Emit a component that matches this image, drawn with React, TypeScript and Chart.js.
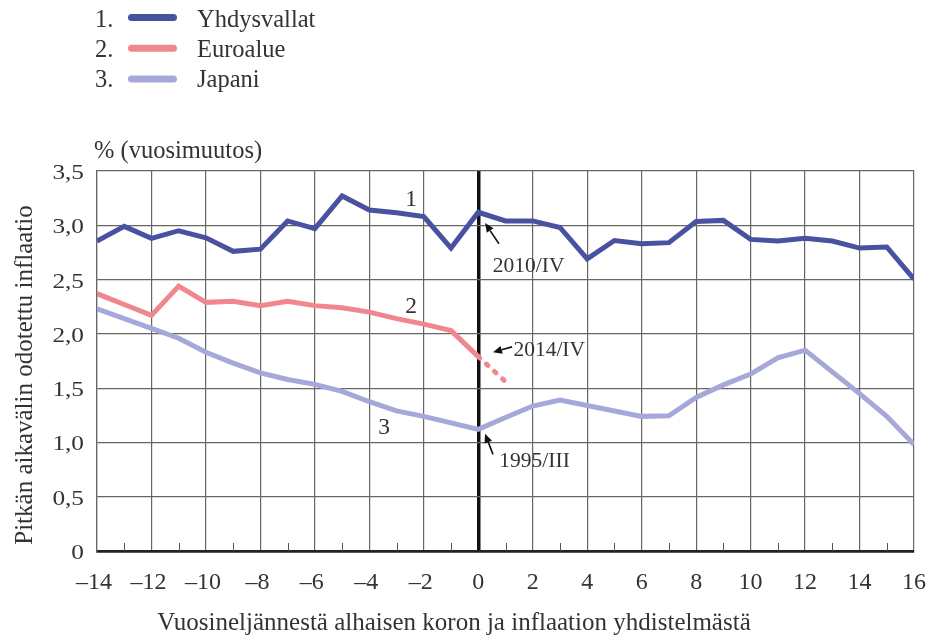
import React, { useEffect, useRef } from 'react';
import { Chart, registerables } from 'chart.js';

Chart.register(...registerables);

const quarters = [-14, -13, -12, -11, -10, -9, -8, -7, -6, -5, -4, -3, -2, -1, 0, 1, 2, 3, 4, 5, 6, 7, 8, 9, 10, 11, 12, 13, 14, 15, 16];
const usValues = [2.855, 2.99, 2.88, 2.95, 2.885, 2.76, 2.78, 3.04, 2.97, 3.27, 3.14, 3.115, 3.08, 2.79, 3.12, 3.04, 3.04, 2.98, 2.69, 2.86, 2.83, 2.84, 3.035, 3.045, 2.87, 2.855, 2.88, 2.855, 2.79, 2.8, 2.505];
const euroValues = [2.37, 2.27, 2.17, 2.44, 2.29, 2.3, 2.26, 2.3, 2.26, 2.24, 2.2, 2.14, 2.09, 2.03, 1.79, 1.56];
const japanValues = [2.23, 2.14, 2.05, 1.96, 1.83, 1.73, 1.64, 1.58, 1.535, 1.47, 1.375, 1.29, 1.24, 1.18, 1.12, 1.23, 1.335, 1.39, 1.34, 1.29, 1.24, 1.245, 1.415, 1.53, 1.63, 1.78, 1.85, 1.65, 1.45, 1.24, 0.98];
const seriesNames = ['Yhdysvallat', 'Euroalue', 'Japani'];
const seriesColors = ['#4a51a1', '#f0878f', '#a5a8d9'];
const xTickValues = [-14, -12, -10, -8, -6, -4, -2, 0, 2, 4, 6, 8, 10, 12, 14, 16];
const yTickValues = [0, 0.5, 1, 1.5, 2, 2.5, 3, 3.5];
const minorTicks = [-13, -11, -9, -7, -5, -3, -1, 1, 3, 5, 7, 9, 11, 13, 15];
const yUnitLabel = '% (vuosimuutos)';
const yTitle = 'Pitkän aikavälin odotettu inflaatio';
const xTitle = 'Vuosineljännestä alhaisen koron ja inflaation yhdistelmästä';
const euroForecastFrom = 14; // index of quarter 0

const FONT = '"Liberation Serif", "DejaVu Serif", serif';
const TEXT = '#333333';

const toPts = (vals: number[]) => vals.map((v, i) => ({ x: quarters[i], y: v }));

const fmtY = (v: number) => (v === 0 ? '0' : v.toFixed(1).replace('.', ','));
const fmtX = (v: number) => (v < 0 ? '\u2013' + Math.abs(v) : String(v));

function txt(
  ctx: CanvasRenderingContext2D,
  s: string,
  x: number,
  y: number,
  size: number,
  align: CanvasTextAlign = 'left',
  stretch = 1
) {
  ctx.save();
  ctx.font = `${size}px ${FONT}`;
  ctx.fillStyle = TEXT;
  ctx.textBaseline = 'alphabetic';
  ctx.textAlign = align;
  ctx.translate(x, y);
  ctx.scale(stretch, 1);
  ctx.fillText(s, 0, 0);
  ctx.restore();
}

function arrow(ctx: CanvasRenderingContext2D, x1: number, y1: number, x2: number, y2: number) {
  ctx.save();
  ctx.strokeStyle = '#111';
  ctx.fillStyle = '#111';
  ctx.lineWidth = 1.6;
  const a = Math.atan2(y2 - y1, x2 - x1);
  const hl = 9;
  const hw = 4;
  const bx = x2 - hl * Math.cos(a);
  const by = y2 - hl * Math.sin(a);
  ctx.beginPath();
  ctx.moveTo(x1, y1);
  ctx.lineTo(bx, by);
  ctx.stroke();
  ctx.beginPath();
  ctx.moveTo(x2, y2);
  ctx.lineTo(bx + hw * Math.sin(a), by - hw * Math.cos(a));
  ctx.lineTo(bx - hw * Math.sin(a), by + hw * Math.cos(a));
  ctx.closePath();
  ctx.fill();
  ctx.restore();
}

const decorPlugin = {
  id: 'decor',
  afterDraw(chart: any) {
    const ctx: CanvasRenderingContext2D = chart.ctx;
    const xs = chart.scales.x;
    const ys = chart.scales.y;
    const ca = chart.chartArea;
    const X = (v: number) => xs.getPixelForValue(v);
    const Y = (v: number) => ys.getPixelForValue(v);

    // minor ticks
    ctx.save();
    ctx.strokeStyle = '#555';
    ctx.lineWidth = 1;
    minorTicks.forEach((t) => {
      const px = Math.round(X(t)) + 0.5;
      ctx.beginPath();
      ctx.moveTo(px, ca.bottom);
      ctx.lineTo(px, ca.bottom - 8);
      ctx.stroke();
    });
    ctx.restore();

    // tick labels
    xTickValues.forEach((v) => {
      const off = v < 0 ? -3 : 0;
      txt(ctx, fmtX(v), X(v) + off, ca.bottom + 38, 24, 'center');
    });
    yTickValues.forEach((v) => {
      txt(ctx, fmtY(v), ca.left - 13, Y(v) + 8, 22, 'right', 1.15);
    });

    // legend
    seriesNames.forEach((name, i) => {
      const base = 26.5 + i * 30;
      const ly = 17.5 + i * 30.7;
      txt(ctx, `${i + 1}.`, 95, base, 24.5);
      ctx.save();
      ctx.strokeStyle = seriesColors[i];
      ctx.lineWidth = 7;
      ctx.lineCap = 'round';
      ctx.beginPath();
      ctx.moveTo(131.5, ly);
      ctx.lineTo(173.5, ly);
      ctx.stroke();
      ctx.restore();
      txt(ctx, name, 197, base, 24.5);
    });

    // unit label
    txt(ctx, yUnitLabel, 94, 158, 24.5);

    // x title
    txt(ctx, xTitle, 454, 630, 25, 'center');

    // y title
    ctx.save();
    ctx.translate(32, 375);
    ctx.rotate(-Math.PI / 2);
    txt(ctx, yTitle, 0, 0, 25, 'center');
    ctx.restore();

    // series numbers
    txt(ctx, '1', X(-2.47), Y(3.18), 23.5, 'center');
    txt(ctx, '2', X(-2.47), Y(2.194), 23.5, 'center');
    txt(ctx, '3', X(-3.46), Y(1.077), 23.5, 'center');

    // date annotations
    txt(ctx, '2010/IV', X(0.532), Y(2.572), 21.5);
    txt(ctx, '2014/IV', X(1.29), Y(1.796), 21.5);
    txt(ctx, '1995/III', X(0.774), Y(0.771), 21.5);

    arrow(ctx, X(0.76), Y(2.83), X(0.25), Y(3.02));
    arrow(ctx, X(1.24), Y(1.88), X(0.54), Y(1.83));
    arrow(ctx, X(0.54), Y(0.89), X(0.25), Y(1.08));
  },
};

export default function App() {
  const ref = useRef<HTMLCanvasElement | null>(null);
  useEffect(() => {
    document.body.style.margin = '0';
    const canvas = ref.current;
    if (!canvas) return;
    const chart = new Chart(canvas, {
      type: 'line',
      data: {
        datasets: [
          {
            label: seriesNames[0],
            data: toPts(usValues),
            borderColor: seriesColors[0],
            borderWidth: 5,
            pointRadius: 0,
            tension: 0,
          },
          {
            label: seriesNames[1],
            data: toPts(euroValues),
            borderColor: seriesColors[1],
            borderWidth: 5,
            pointRadius: 0,
            tension: 0,
            segment: {
              borderDash: (c: any) => (c.p0DataIndex >= euroForecastFrom ? [2, 9] : undefined),
              borderCapStyle: (c: any) => (c.p0DataIndex >= euroForecastFrom ? 'round' : 'butt'),
            },
          },
          {
            label: seriesNames[2],
            data: toPts(japanValues),
            borderColor: seriesColors[2],
            borderWidth: 5,
            pointRadius: 0,
            tension: 0,
          },
        ],
      },
      options: {
        animation: false,
        responsive: false,
        maintainAspectRatio: false,
        layout: { padding: { top: 171, right: 17, left: 0, bottom: 0 } },
        plugins: { legend: { display: false }, tooltip: { enabled: false } },
        scales: {
          x: {
            type: 'linear',
            min: -14,
            max: 16,
            afterFit: (s: any) => {
              s.height = 84;
            },
            ticks: { display: false, stepSize: 2 },
            grid: {
              drawTicks: false,
              color: (c: any) => (c.tick && c.tick.value === 0 ? '#111' : '#666'),
              lineWidth: (c: any) => (c.tick && c.tick.value === 0 ? 3.5 : 1.2),
            },
            border: { color: '#222', width: 2.5 },
          },
          y: {
            min: 0,
            max: 3.5,
            afterFit: (s: any) => {
              s.width = 97;
            },
            ticks: { display: false, stepSize: 0.5 },
            grid: {
              drawTicks: false,
              color: (c: any) => (c.tick && c.tick.value === 0 ? '#222' : '#666'),
              lineWidth: (c: any) => (c.tick && c.tick.value === 0 ? 2.5 : 1.2),
            },
            border: { color: '#666', width: 1.2 },
          },
        },
      },
      plugins: [decorPlugin],
    });
    return () => chart.destroy();
  }, []);
  return (
    <div style={{ width: 931, height: 635 }}>
      <canvas ref={ref} width={931} height={635} style={{ display: 'block', width: 931, height: 635 }} />
    </div>
  );
}
